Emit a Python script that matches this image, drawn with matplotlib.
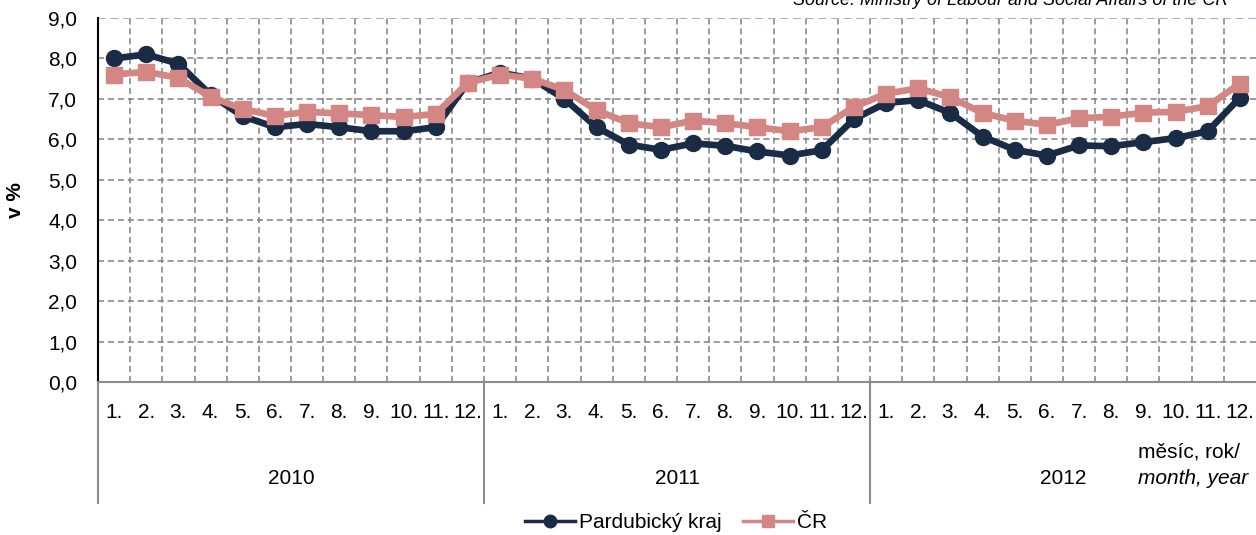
import numpy as np
import matplotlib
matplotlib.use("Agg")
import matplotlib.pyplot as plt
import matplotlib.transforms as mtrans
from matplotlib.lines import Line2D

plt.rcParams['font.family'] = ['Liberation Sans', 'DejaVu Sans']

months = ["1.", "2.", "3.", "4.", "5.", "6.", "7.", "8.", "9.", "10.", "11.", "12."] * 3
years = ["2010", "2011", "2012"]
pardubice = [8.0, 8.1, 7.87, 7.1, 6.57, 6.3, 6.38, 6.3, 6.2, 6.2, 6.3, 7.4,
             7.65, 7.5, 7.0, 6.3, 5.87, 5.74, 5.9, 5.84, 5.7, 5.6, 5.73, 6.5,
             6.9, 6.97, 6.65, 6.07, 5.74, 5.6, 5.85, 5.83, 5.93, 6.03, 6.2, 7.03]
cr = [7.6, 7.67, 7.52, 7.05, 6.75, 6.58, 6.68, 6.64, 6.6, 6.55, 6.63, 7.4,
      7.6, 7.5, 7.22, 6.72, 6.4, 6.3, 6.46, 6.4, 6.3, 6.2, 6.3, 6.8,
      7.13, 7.26, 7.04, 6.65, 6.46, 6.36, 6.52, 6.56, 6.66, 6.68, 6.82, 7.38]
yticks = [0, 1, 2, 3, 4, 5, 6, 7, 8, 9]
ylabels = ["0,0", "1,0", "2,0", "3,0", "4,0", "5,0", "6,0", "7,0", "8,0", "9,0"]

navy = "#1a2b45"
pink = "#d48684"
FS = 15

W, H = 1256, 535
fig = plt.figure(figsize=(W / 100, H / 100), dpi=100)
ax = fig.add_axes([98 / W, (H - 382) / H, (W - 98) / W, 364 / H])

x = np.arange(len(months))
ax.plot(x, pardubice, color=navy, lw=4.8, marker='o', ms=11.5, zorder=4, label="Pardubický kraj")
ax.plot(x, cr, color=pink, lw=4.8, marker='s', ms=11.5, zorder=5, label="ČR")

ax.set_xlim(-0.5, len(months) - 0.5)
ax.set_ylim(0, 9)
ax.set_yticks(yticks)
ax.set_yticklabels(ylabels, fontsize=FS)
ax.tick_params(axis='y', length=0, pad=15)

ax.set_xticks(x)
ax.set_xticklabels(months, fontsize=FS)
ax.set_xticks(np.arange(0.5, len(months) - 0.5, 1), minor=True)
ax.tick_params(axis='x', which='both', length=0, pad=15)

ax.grid(axis='y', which='major', color='#808080', ls=(0, (4, 2.5)), lw=1.1)
ax.grid(axis='x', which='minor', color='#808080', ls=(0, (4, 2.5)), lw=1.1)
ax.grid(axis='x', which='major', visible=False)
glines = ax.yaxis.get_gridlines()
glines[-1].set_color('#8fb0e3')
glines[-1].set_linewidth(1.4)

for s in ['top', 'right']:
    ax.spines[s].set_visible(False)
ax.spines['left'].set_color('black')
ax.spines['left'].set_linewidth(1.5)
ax.spines['bottom'].set_color('#8c8c8c')
ax.spines['bottom'].set_linewidth(1.5)

trans = mtrans.blended_transform_factory(ax.transData, ax.transAxes)
for i, yr in enumerate(years):
    ax.text(i * 12 + 5.5, -96 / 364, yr, transform=trans, ha='center', va='center', fontsize=FS)
    xb = i * 12 - 0.5
    ax.plot([xb, xb], [0, -121 / 364], transform=trans, color='#8c8c8c', lw=1.5, clip_on=False)

ax.set_ylabel("v %", fontsize=FS, fontweight='bold')
ax.yaxis.set_label_coords(-73 / (W - 98), 0.5)

fig.text(1138 / W, (H - 452) / H, "měsíc, rok/", fontsize=FS, ha='left', va='center')
fig.text(1138 / W, (H - 478) / H, "month, year", fontsize=FS, ha='left', va='center', style='italic')
fig.text(1228 / W, (H - 5) / H, "Source: Ministry of Labour and Social Affairs of the CR",
         fontsize=13, ha='right', va='baseline', style='italic')

handles = [Line2D([], [], color=navy, lw=2.5, marker='o', ms=9),
           Line2D([], [], color=pink, lw=2.5, marker='s', ms=9)]
fig.legend(handles, ["Pardubický kraj", "ČR"], loc='center', bbox_to_anchor=(676 / W, (H - 523) / H),
           ncol=2, frameon=False, fontsize=FS, handlelength=2.4, columnspacing=1.0, handletextpad=0.2,
           borderpad=0.1)

fig.savefig("out.png", dpi=100)
